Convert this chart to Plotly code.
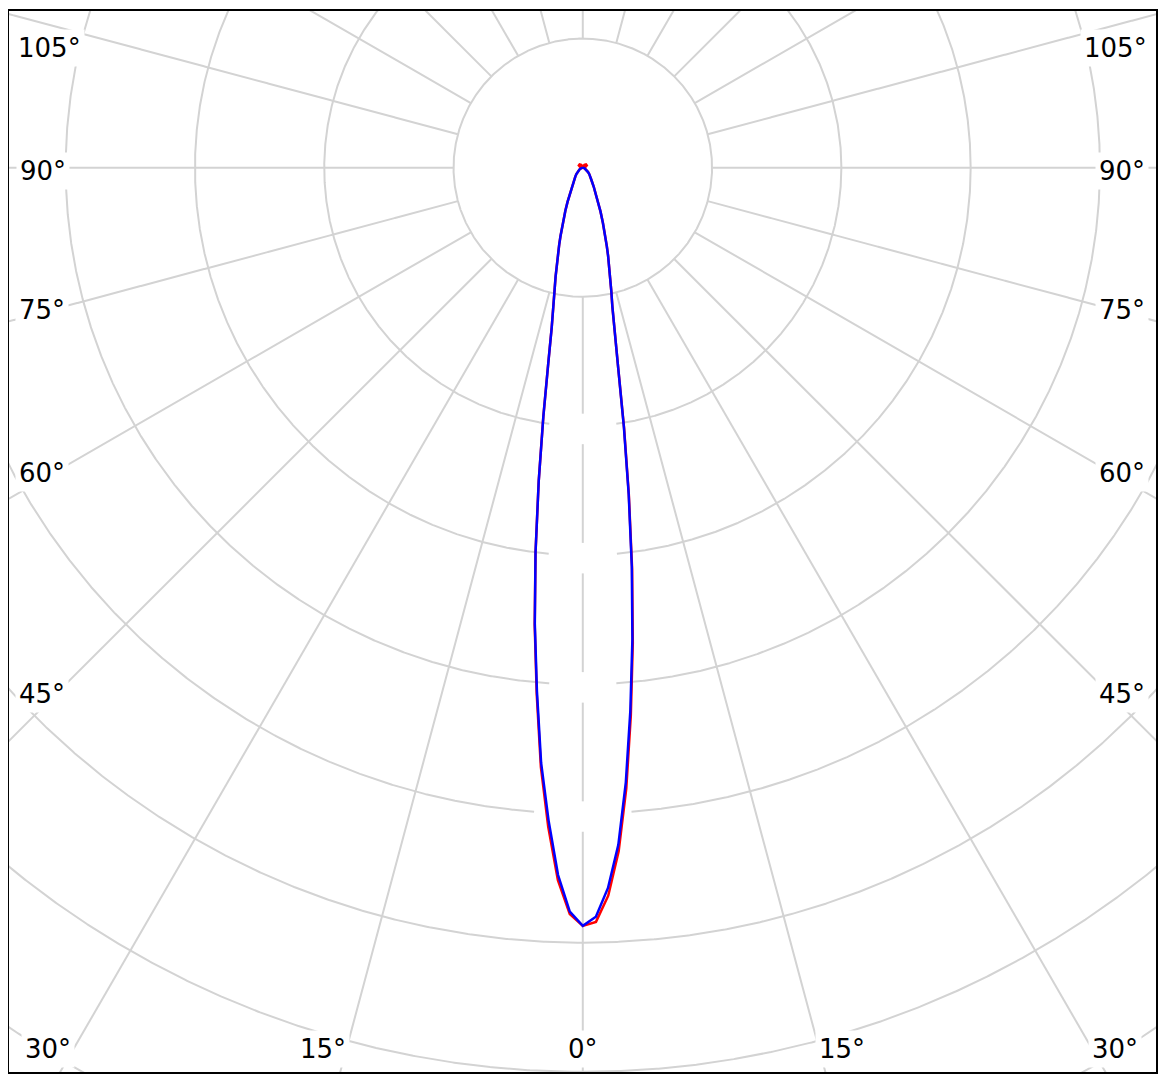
import numpy as np
import plotly.graph_objects as go

# ---------------- data (luminous intensity, relative units per grid ring) ----------------
gamma = [0, 1, 2, 3, 4, 5, 6, 7, 8, 9, 10, 11, 12, 13, 14, 15, 16, 17, 18, 19, 20,
         22, 24, 26, 28, 30, 35, 40, 45, 50, 60, 70, 80, 90, 105, 120, 135, 150, 165, 180]

# C0 - C180 plane (red)
c0 = [5.87, 5.84, 5.64, 5.30, 4.82, 4.26, 3.70, 3.13, 2.56, 2.04, 1.58, 1.28, 1.10, 0.98, 0.88,
      0.79, 0.71, 0.635, 0.57, 0.51, 0.455, 0.365, 0.295, 0.24, 0.20, 0.168, 0.116, 0.091, 0.071,
      0.053, 0.03, 0.015, 0.007, 0.0, 0.02, 0.035, 0.035, 0.025, 0.01, 0.0]
c180 = [5.87, 5.78, 5.52, 5.11, 4.65, 4.09, 3.56, 3.00, 2.45, 1.95, 1.54, 1.26, 1.08, 0.97, 0.87,
        0.78, 0.70, 0.625, 0.56, 0.50, 0.45, 0.36, 0.29, 0.235, 0.196, 0.165, 0.114, 0.09, 0.07,
        0.053, 0.03, 0.015, 0.007, 0.0, 0.02, 0.035, 0.035, 0.025, 0.01, 0.0]

# C90 - C270 plane (blue)
c90 = [5.87, 5.80, 5.58, 5.25, 4.77, 4.22, 3.67, 3.11, 2.55, 2.03, 1.58, 1.28, 1.10, 0.98, 0.88,
       0.79, 0.71, 0.635, 0.57, 0.51, 0.455, 0.365, 0.295, 0.24, 0.20, 0.168, 0.116, 0.091, 0.071,
       0.053, 0.03, 0.015, 0.007, 0.0, 0.0, 0.0, 0.0, 0.0, 0.0, 0.0]
c270 = [5.87, 5.76, 5.48, 5.06, 4.62, 4.07, 3.55, 3.00, 2.45, 1.95, 1.54, 1.26, 1.08, 0.97, 0.87,
        0.78, 0.70, 0.625, 0.56, 0.50, 0.45, 0.36, 0.29, 0.235, 0.196, 0.165, 0.114, 0.09, 0.07,
        0.053, 0.03, 0.015, 0.007, 0.0, 0.0, 0.0, 0.0, 0.0, 0.0, 0.0]

grid_rings = [1, 2, 3, 4, 5, 6, 7, 8]
spoke_angles = list(range(0, 360, 15))
hidden_label_rings = [2, 3, 4, 5]          # rings whose (blank) value boxes cut the grid
hidden_label_halfwidth_px = [33.5, 33.5, 33.5, 47.5]

angle_label_text = ["105°", "90°", "75°", "60°", "45°",
                    "105°", "90°", "75°", "60°", "45°",
                    "30°", "15°", "0°", "15°", "30°"]

# ---------------- layout constants ----------------
PAGE_OFF = 8              # default body margin of the html page
ML, MT, MR, MB = 1, 1, 2, 2
PLOT_L, PLOT_T, PLOT_R, PLOT_B = 9, 9, 1157, 1072   # plot area in page pixels
W = ML + (PLOT_R - PLOT_L) + MR
H = MT + (PLOT_B - PLOT_T) + MB
S = 129.4                 # pixels per ring
CX, CY = 583.3, 166.0     # page-pixel position of the diagram centre

# label box centres (page pixels)
label_pos_px = [(49.7, 46), (43, 169), (42.5, 309), (42.5, 472), (42.5, 693),
                (1116.3, 46), (1122.7, 169), (1122.7, 309), (1122.7, 472), (1122.7, 693),
                (48.3, 1049), (323.3, 1049), (583.3, 1049), (842.5, 1049), (1116, 1049)]


def px_to_data(px, py):
    return (px - CX) / S, (CY - py) / S


x_range = [(PLOT_L - CX) / S, (PLOT_R - CX) / S]
y_range = [(CY - PLOT_B) / S, (CY - PLOT_T) / S]

# boxes (in data units) of the blank radial value labels
boxes = []
for k, hw in zip(hidden_label_rings, hidden_label_halfwidth_px):
    boxes.append((-hw / S, hw / S, -k - 18 / S, -k + 12 / S))


def mask(x, y):
    x = x.copy()
    y = y.copy()
    for x0, x1, y0, y1 in boxes:
        inside = (x > x0) & (x < x1) & (y > y0) & (y < y1)
        x[inside] = np.nan
        y[inside] = np.nan
    return x, y


gx, gy = [], []
t = np.linspace(0, 2 * np.pi, 3000)
for k in grid_rings:
    x, y = mask(k * np.sin(t), -k * np.cos(t))
    gx += list(x) + [None]
    gy += list(y) + [None]
rr = np.linspace(1, 9, 2000)
for a in spoke_angles:
    ar = np.radians(a)
    x, y = mask(rr * np.sin(ar), -rr * np.cos(ar))
    gx += list(x) + [None]
    gy += list(y) + [None]
gx = [None if (v is not None and np.isnan(v)) else v for v in gx]
gy = [None if (v is not None and np.isnan(v)) else v for v in gy]


def plane_xy(left, right):
    g = np.radians(np.array(gamma, dtype=float))
    lv = np.array(left, dtype=float)
    rv = np.array(right, dtype=float)
    xl, yl = -lv * np.sin(g), -lv * np.cos(g)
    xr, yr = rv * np.sin(g), -rv * np.cos(g)
    x = np.concatenate([xl[::-1], xr[1:]])
    y = np.concatenate([yl[::-1], yr[1:]])
    return x, y


fig = go.Figure()
fig.add_trace(go.Scatter(x=gx, y=gy, mode="lines", line=dict(color="#d3d3d3", width=2),
                         hoverinfo="skip", showlegend=False, connectgaps=False))

rx, ry = plane_xy(c180, c0)
fig.add_trace(go.Scatter(x=rx, y=ry, mode="lines", name="C0 - C180",
                         line=dict(color="#ff0000", width=2.5), showlegend=False))
bx, by = plane_xy(c270, c90)
fig.add_trace(go.Scatter(x=bx, y=by, mode="lines", name="C90 - C270",
                         line=dict(color="#0000ff", width=2.5), showlegend=False))

annotations = []
for txt, (px, py) in zip(angle_label_text, label_pos_px):
    xd, yd = px_to_data(px, py)
    annotations.append(dict(x=xd, y=yd, xref="x", yref="y", text=txt, showarrow=False,
                            xanchor="center", yanchor="middle", bgcolor="white",
                            borderpad=3, font=dict(family="DejaVu Sans", size=26, color="black")))

fig.update_layout(
    width=W, height=H,
    margin=dict(l=ML, r=MR, t=MT, b=MB),
    paper_bgcolor="white", plot_bgcolor="white",
    annotations=annotations,
    xaxis=dict(range=x_range, showgrid=False, zeroline=False, showticklabels=False,
               ticks="", showline=True, mirror=True, linecolor="black", linewidth=2,
               fixedrange=True),
    yaxis=dict(range=y_range, showgrid=False, zeroline=False, showticklabels=False,
               ticks="", showline=True, mirror=True, linecolor="black", linewidth=2,
               fixedrange=True),
)

fig.write_html("out.html")
